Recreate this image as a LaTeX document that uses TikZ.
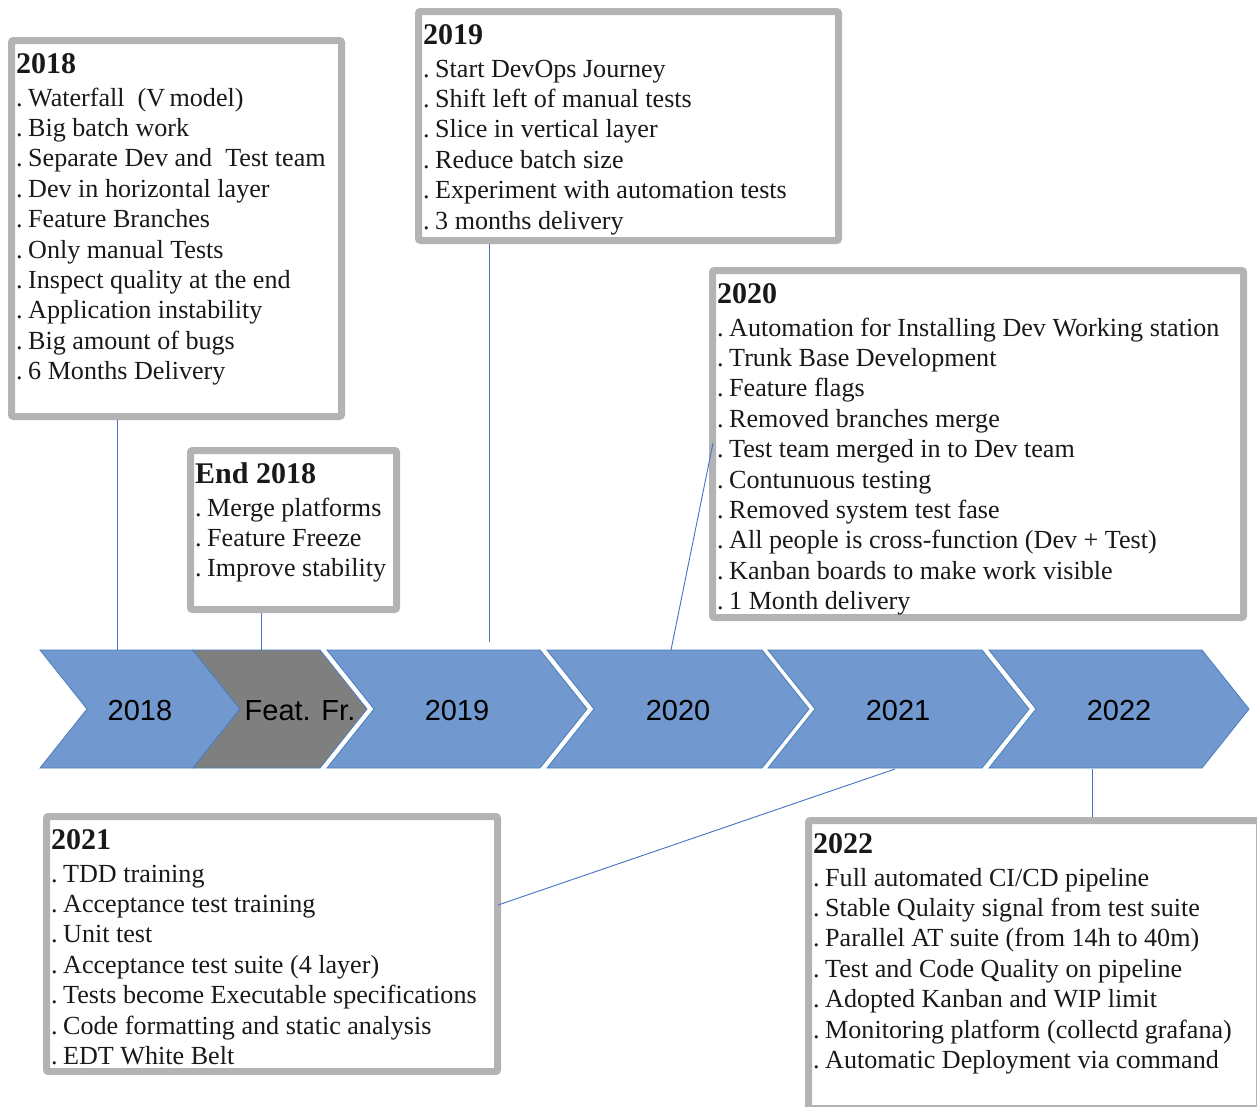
\documentclass[tikz,border=0pt]{standalone}
\usepackage{fontspec}
\setmainfont{Liberation Serif}
\newfontfamily\chevfont{Liberation Sans}
\usetikzlibrary{calc}
\definecolor{chevblue}{HTML}{7199CF}
\definecolor{chevline}{HTML}{4A7EBB}
\definecolor{chevgray}{HTML}{7F7F7F}
\definecolor{boxgray}{HTML}{B3B3B3}
\definecolor{connblue}{HTML}{4472C4}
\tikzset{
  chev/.style={draw=chevline, line width=0.8pt, line join=miter},
  chevlabel/.style={font=\chevfont\fontsize{29}{34}\selectfont, text=black, inner sep=0pt},
  gbox/.style={draw=boxgray, line width=7pt, fill=white, rounded corners=2pt, anchor=north west, inner sep=0pt, outer sep=3.5pt},
  boxtext/.style={anchor=base west, inner sep=0pt, font=\fontsize{26.1}{30.4}\selectfont, text=black!90},
  conn/.style={draw=connblue, line width=0.9pt},
}
\newcommand\ttl[1]{{\bfseries\fontsize{30}{30.4}\selectfont #1}}
\newcommand\dt{.\hspace{5.5pt}}
\begin{document}
\begin{tikzpicture}[x=1pt,y=-1pt]
\useasboundingbox (0,0) rectangle (1257,1106);
\clip (0,0) rectangle (1257,1106);
\fill[white] (0,0) rectangle (1257,1106);

% chevrons
\foreach \L/\R/\col in {40/193/chevblue, 193/320/chevgray, 327/540/chevblue, 547/762/chevblue, 768/982/chevblue, 989/1202/chevblue}{
  \draw[chev, fill=\col] (\L,650) -- (\R,650) -- (\R+47,709) -- (\R,768) -- (\L,768) -- (\L+47,709) -- cycle;
}
\node[chevlabel] (k2018) at (140,711) {2018};
\node[chevlabel] (kff) at (300,711) {Feat. Fr.};
\node[chevlabel] (k2019) at (457,711) {2019};
\node[chevlabel] (k2020) at (678,711) {2020};
\node[chevlabel] (k2021) at (898,711) {2021};
\node[chevlabel] (k2022) at (1119,711) {2022};

% boxes (anchors at outer edge of the grey frame)
\node[gbox, minimum width=330pt, minimum height=376pt] (b2018) at (8,37) {};
\node[gbox, minimum width=206pt, minimum height=159pt] (bend) at (187,447) {};
\node[gbox, minimum width=420pt, minimum height=229pt] (b2019) at (415,8) {};
\node[gbox, minimum width=531pt, minimum height=347pt] (b2020) at (709,267) {};
\node[gbox, minimum width=451pt, minimum height=255pt] (b2021) at (43,813) {};
\node[gbox, minimum width=451pt, minimum height=288pt] (b2022) at (805,817) {};

% connectors
\coordinate (p2018) at (117,650);
\coordinate (pend) at (261,650);
\coordinate (p2019) at (489,642);
\coordinate (p2020) at (671,650);
\coordinate (p2021) at (895,769);
\coordinate (p2022) at (1092,769);
\draw[conn] (b2018.south -| p2018) -- (p2018);
\draw[conn] (bend.south -| pend) -- (pend);
\draw[conn] (b2019.south -| p2019) -- (p2019);
\draw[conn] (p2020) -- ($(b2020.west |- 0,443)+(4,0)$);
\draw[conn] (p2021) -- ($(b2021.east |- 0,905)+(-3,0)$);
\draw[conn] (p2022) -- (b2022.north -| p2022);

% texts
\node[boxtext] (t2018) at (16,73) {\begin{tabular}[t]{@{}l@{}}\ttl{2018}\\[2.6pt]
\dt Waterfall\ \ (V\,model)\\
\dt Big batch work\\
\dt Separate Dev and\ \ Test team\\
\dt Dev in horizontal layer\\
\dt Feature Branches\\
\dt Only manual Tests\\
\dt Inspect quality at the end\\
\dt Application instability\\
\dt Big amount of bugs\\
\dt 6 Months Delivery\end{tabular}};

\node[boxtext] (tend) at (195,483) {\begin{tabular}[t]{@{}l@{}}\ttl{End 2018}\\[2.6pt]
\dt Merge platforms\\
\dt Feature Freeze\\
\dt Improve stability\end{tabular}};

\node[boxtext] (t2019) at (423,44) {\begin{tabular}[t]{@{}l@{}}\ttl{2019}\\[2.6pt]
\dt Start DevOps Journey\\
\dt Shift left of manual tests\\
\dt Slice in vertical layer\\
\dt Reduce batch size\\
\dt Experiment with automation tests\\
\dt 3 months delivery\end{tabular}};

\node[boxtext] (t2020) at (717,303) {\begin{tabular}[t]{@{}l@{}}\ttl{2020}\\[2.6pt]
\dt Automation for Installing Dev Working station\\
\dt Trunk Base Development\\
\dt Feature flags\\
\dt Removed branches merge\\
\dt Test team merged in to Dev team\\
\dt Contunuous testing\\
\dt Removed system test fase\\
\dt All people is cross-function (Dev + Test)\\
\dt Kanban boards to make work visible\\
\dt 1 Month delivery\end{tabular}};

\node[boxtext] (t2021) at (51,849) {\begin{tabular}[t]{@{}l@{}}\ttl{2021}\\[2.6pt]
\dt TDD training\\
\dt Acceptance test training\\
\dt Unit test\\
\dt Acceptance test suite (4 layer)\\
\dt Tests become Executable specifications\\
\dt Code formatting and static analysis\\
\dt EDT White Belt\end{tabular}};

\node[boxtext] (t2022) at (813,853) {\begin{tabular}[t]{@{}l@{}}\ttl{2022}\\[2.6pt]
\dt Full automated CI/CD pipeline\\
\dt Stable Qulaity signal from test suite\\
\dt Parallel AT suite (from 14h to 40m)\\
\dt Test and Code Quality on pipeline\\
\dt Adopted Kanban and WIP limit\\
\dt Monitoring platform (collectd grafana)\\
\dt Automatic Deployment via command\end{tabular}};
\end{tikzpicture}
\end{document}
